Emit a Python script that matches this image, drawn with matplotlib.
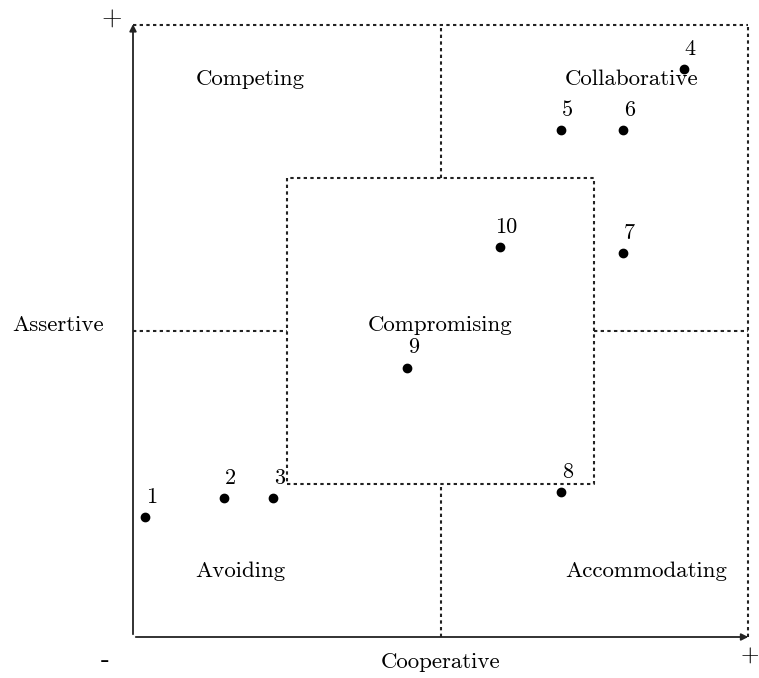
import matplotlib.pyplot as plt

# point positions (0-10 scale on both axes)
labels = ['1', '2', '3', '4', '5', '6', '7', '8', '9', '10']
coop = [0.2, 1.48, 2.28, 8.96, 6.96, 7.97, 7.97, 6.96, 4.46, 5.97]
assert_ = [1.96, 2.27, 2.27, 9.28, 8.28, 8.28, 6.27, 2.37, 4.40, 6.37]

regions = ['Competing', 'Collaborative', 'Compromising', 'Avoiding', 'Accommodating']
region_x = [1.9, 8.1, 5.0, 1.74, 8.34]
region_y = [9.12, 9.12, 5.1, 1.08, 1.08]

plt.rcParams['font.family'] = ['cmr10', 'DejaVu Serif']
plt.rcParams['axes.unicode_minus'] = False

fig = plt.figure(figsize=(7.59, 6.78), dpi=100)
ax = fig.add_axes([133/759, 41/678, 615/759, 612/678])
ax.set_xlim(0, 10)
ax.set_ylim(0, 10)
ax.axis('off')

ls = (0, (1.6, 1.6))
lc = '#222222'
lw = 1.5
# outer border (top, right)
ax.plot([0, 10], [10, 10], ls=ls, color=lc, lw=lw, clip_on=False)
ax.plot([10, 10], [0, 10], ls=ls, color=lc, lw=lw, clip_on=False)
# centre lines, only outside the inner box
ax.plot([5, 5], [7.5, 10], ls=ls, color=lc, lw=lw)
ax.plot([5, 5], [0, 2.5], ls=ls, color=lc, lw=lw)
ax.plot([0, 2.5], [5, 5], ls=ls, color=lc, lw=lw)
ax.plot([7.5, 10], [5, 5], ls=ls, color=lc, lw=lw)
# inner compromising box
ax.plot([2.5, 7.5, 7.5, 2.5, 2.5], [2.5, 2.5, 7.5, 7.5, 2.5], ls=ls, color=lc, lw=lw)

# axes arrows
ax.annotate('', xy=(10.05, 0), xytext=(0, 0),
            arrowprops=dict(arrowstyle='-|>', color='#222222', lw=1.3, mutation_scale=10),
            annotation_clip=False)
ax.annotate('', xy=(0, 10.06), xytext=(0, 0),
            arrowprops=dict(arrowstyle='-|>', color='#222222', lw=1.3, mutation_scale=10),
            annotation_clip=False)

ax.plot(coop, assert_, 'o', color='black', ms=6, clip_on=False)
for lab, x, y in zip(labels, coop, assert_):
    ax.annotate(lab, (x, y), xytext=(4.5, 14.5), textcoords='offset points',
                ha='center', va='center', fontsize=16)

for r, x, y in zip(regions, region_x, region_y):
    ax.text(x, y, r, ha='center', va='center', fontsize=16.5)

ax.text(-1.22, 5.1, 'Assertive', ha='center', va='center', fontsize=16.5)
ax.text(5.0, -0.42, 'Cooperative', ha='center', va='center', fontsize=16.5)
ax.text(-0.35, 10.1, '+', ha='center', va='center', fontsize=19)
ax.text(-0.45, -0.38, '-', ha='center', va='center', fontsize=19, fontweight='bold')
ax.text(10.03, -0.32, '+', ha='center', va='center', fontsize=17)

fig.savefig('out.png', dpi=100)
